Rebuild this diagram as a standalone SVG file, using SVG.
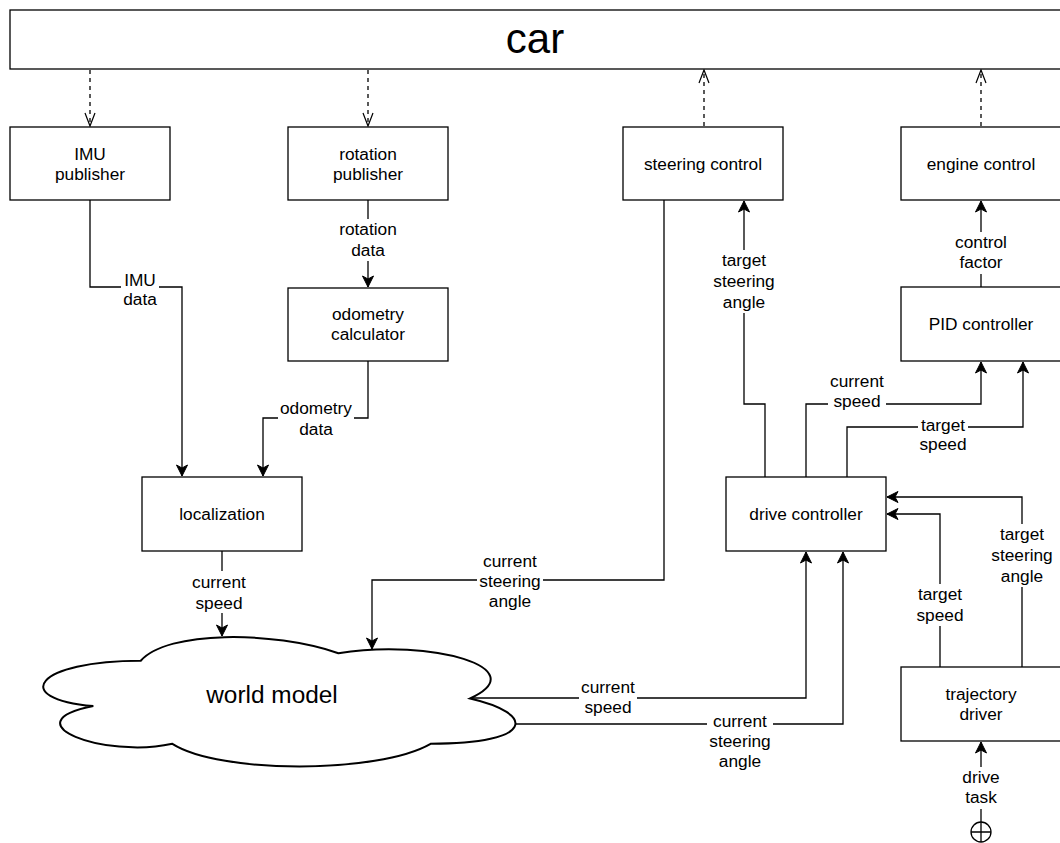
<svg xmlns="http://www.w3.org/2000/svg" width="1060" height="843" viewBox="0 0 1060 843">
<style>
.box{fill:#fff;stroke:#000;stroke-width:1.3}
.t{font-family:"Liberation Sans",Arial,Helvetica,sans-serif;font-size:17.3px;text-anchor:middle;fill:#000}
.e{fill:none;stroke:#000;stroke-width:1.3}
.d{fill:none;stroke:#000;stroke-width:1.3;stroke-dasharray:4 4}
.bg{fill:#fff;stroke:none}
</style>
<defs>
<marker id="arr" markerUnits="userSpaceOnUse" markerWidth="12" markerHeight="11" refX="11" refY="5.5" orient="auto" overflow="visible">
<path d="M0,0 L11,5.5 L0,11 L3,5.5 Z" fill="#000" stroke="#000" stroke-width="1"/>
</marker>
<marker id="open" markerUnits="userSpaceOnUse" markerWidth="14" markerHeight="12" refX="13" refY="5" orient="auto" overflow="visible">
<path d="M0,0 L13,5 L0,10" fill="none" stroke="#000" stroke-width="1.2"/>
</marker>
</defs>
<rect width="1060" height="843" fill="#fff"/>

<g id="connectors">
<path class="d" d="M90,70 V126" marker-end="url(#open)"/>
<path class="d" d="M368,70 V126" marker-end="url(#open)"/>
<path class="d" d="M704,126 V70" marker-end="url(#open)"/>
<path class="d" d="M981,126 V70" marker-end="url(#open)"/>

<path class="e" d="M90,200 V287 H182 V476" marker-end="url(#arr)"/>
<path class="e" d="M368,200 V287" marker-end="url(#arr)"/>
<path class="e" d="M368,361 V418 H263 V476" marker-end="url(#arr)"/>
<path class="e" d="M222,551 V636" marker-end="url(#arr)"/>
<path class="e" d="M664,200 V580 H372 V649" marker-end="url(#arr)"/>
<path class="e" d="M765,477 V404 H744 V201" marker-end="url(#arr)"/>
<path class="e" d="M806,477 V404 H981 V362" marker-end="url(#arr)"/>
<path class="e" d="M847,477 V427 H1023 V362" marker-end="url(#arr)"/>
<path class="e" d="M981,287 V201" marker-end="url(#arr)"/>
<path class="e" d="M470,698 H806 V552" marker-end="url(#arr)"/>
<path class="e" d="M514,724 H843 V552" marker-end="url(#arr)"/>
<path class="e" d="M940,667 V514 H887" marker-end="url(#arr)"/>
<path class="e" d="M1022,667 V497 H887" marker-end="url(#arr)"/>
<path class="e" d="M981,822 V742" marker-end="url(#arr)"/>

<g id="lbl-imu"><rect class="bg" x="121" y="270" width="38" height="40"/><text class="t" x="140" y="286">IMU</text><text class="t" x="140" y="305">data</text></g>
<g id="lbl-rot"><rect class="bg" x="337" y="219" width="62" height="42"/><text class="t" x="368" y="235">rotation</text><text class="t" x="368" y="256">data</text></g>
<g id="lbl-odo"><rect class="bg" x="278" y="398" width="76" height="42"/><text class="t" x="316" y="414">odometry</text><text class="t" x="316" y="435">data</text></g>
<g id="lbl-loc"><rect class="bg" x="191" y="571" width="58" height="42"/><text class="t" x="219" y="588">current</text><text class="t" x="219" y="609">speed</text></g>
<g id="lbl-csa1"><rect class="bg" x="477" y="550" width="66" height="63"/><text class="t" x="510" y="567">current</text><text class="t" x="510" y="587">steering</text><text class="t" x="510" y="607">angle</text></g>
<g id="lbl-tsa1"><rect class="bg" x="711" y="250" width="66" height="63"/><text class="t" x="744" y="266">target</text><text class="t" x="744" y="287">steering</text><text class="t" x="744" y="308">angle</text></g>
<g id="lbl-cs1"><rect class="bg" x="828" y="371" width="58" height="42"/><text class="t" x="857" y="387">current</text><text class="t" x="857" y="407">speed</text></g>
<g id="lbl-ts1"><rect class="bg" x="918" y="415" width="50" height="42"/><text class="t" x="943" y="431">target</text><text class="t" x="943" y="450">speed</text></g>
<g id="lbl-cf"><rect class="bg" x="953" y="232" width="56" height="42"/><text class="t" x="981" y="248">control</text><text class="t" x="981" y="268">factor</text></g>
<g id="lbl-ts2"><rect class="bg" x="915" y="584" width="50" height="42"/><text class="t" x="940" y="600">target</text><text class="t" x="940" y="621">speed</text></g>
<g id="lbl-tsa2"><rect class="bg" x="989" y="524" width="66" height="63"/><text class="t" x="1022" y="540">target</text><text class="t" x="1022" y="561">steering</text><text class="t" x="1022" y="582">angle</text></g>
<g id="lbl-cs2"><rect class="bg" x="579" y="677" width="58" height="42"/><text class="t" x="608" y="693">current</text><text class="t" x="608" y="713">speed</text></g>
<g id="lbl-csa2"><rect class="bg" x="707" y="711" width="66" height="63"/><text class="t" x="740" y="727">current</text><text class="t" x="740" y="747">steering</text><text class="t" x="740" y="767">angle</text></g>
<g id="lbl-task"><rect class="bg" x="960" y="767" width="42" height="42"/><text class="t" x="981" y="783">drive</text><text class="t" x="981" y="803">task</text></g>
</g>

<g id="car"><rect class="box" x="10" y="10" width="1060" height="59"/><text class="t" x="535" y="53" style="font-size:42px">car</text></g>
<g id="imu-publisher"><rect class="box" x="10" y="127" width="160" height="73"/><text class="t" x="90" y="160">IMU</text><text class="t" x="90" y="180">publisher</text></g>
<g id="rotation-publisher"><rect class="box" x="288" y="127" width="160" height="73"/><text class="t" x="368" y="160">rotation</text><text class="t" x="368" y="180">publisher</text></g>
<g id="steering-control"><rect class="box" x="623" y="127" width="160" height="73"/><text class="t" x="703" y="169.5">steering control</text></g>
<g id="engine-control"><rect class="box" x="901" y="127" width="160" height="73"/><text class="t" x="981" y="169.5">engine control</text></g>
<g id="odometry-calculator"><rect class="box" x="288" y="288" width="160" height="73"/><text class="t" x="368" y="320">odometry</text><text class="t" x="368" y="340">calculator</text></g>
<g id="pid-controller"><rect class="box" x="901" y="287" width="160" height="74"/><text class="t" x="981" y="330">PID controller</text></g>
<g id="localization"><rect class="box" x="142" y="477" width="160" height="74"/><text class="t" x="222" y="520">localization</text></g>
<g id="drive-controller"><rect class="box" x="726" y="477" width="160" height="74"/><text class="t" x="806" y="520">drive controller</text></g>
<g id="trajectory-driver"><rect class="box" x="901" y="667" width="160" height="74"/><text class="t" x="981" y="700">trajectory</text><text class="t" x="981" y="720">driver</text></g>
<g id="world-model"><path d="M140.75,660.75 C35.35,660.75 9,698.5 93.32,706.05 C9,722.66 103.86,758.9 172.37,743.8 C219.8,774 377.9,774 430.6,743.8 C536,743.8 536,713.6 470.1,698.5 C536,668.3 430.6,638.1 338.4,653.2 C272.5,630.55 167.1,630.55 140.75,660.75 Z" fill="#fff" stroke="#000" stroke-width="2"/><text class="t" x="272" y="703" style="font-size:24.4px">world model</text></g>
<g id="start"><circle cx="981" cy="832" r="10" fill="#fff" stroke="#000" stroke-width="1.3"/><path d="M971,832 H991 M981,822 V842" stroke="#000" stroke-width="1.3"/></g>
</svg>
